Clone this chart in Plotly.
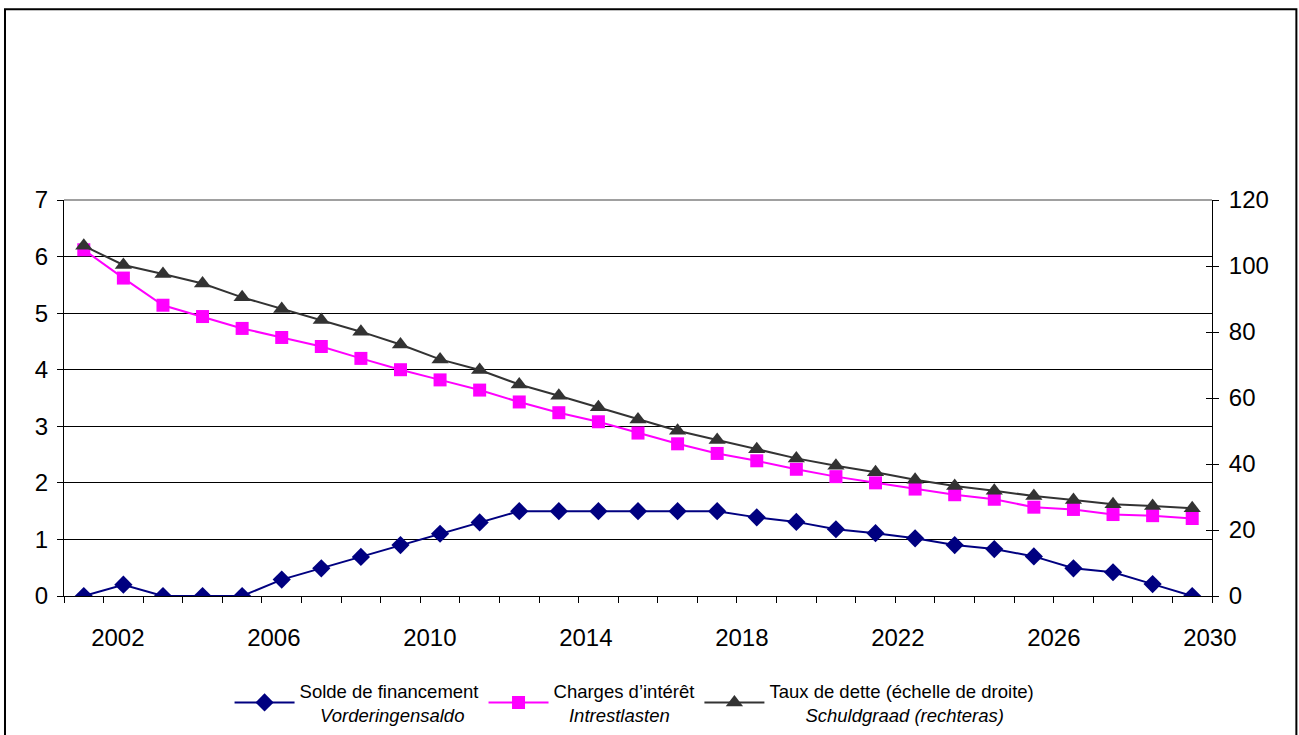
import plotly.graph_objects as go

years = list(range(2001, 2030))
solde = [0, 0.2, 0, 0, 0, 0.29, 0.49, 0.69, 0.9, 1.1, 1.3, 1.5, 1.5, 1.5, 1.5, 1.5, 1.5,
         1.39, 1.31, 1.18, 1.11, 1.02, 0.9, 0.83, 0.7, 0.49, 0.42, 0.21, 0]
charges = [6.12, 5.62, 5.14, 4.94, 4.73, 4.57, 4.41, 4.2, 4.0, 3.82, 3.64, 3.43, 3.24, 3.08,
           2.88, 2.69, 2.52, 2.39, 2.24, 2.11, 2.0, 1.89, 1.79, 1.71, 1.57, 1.53, 1.44, 1.42, 1.37]
taux = [106.1, 100.3, 97.6, 94.7, 90.5, 87.0, 83.6, 80.1, 76.2, 71.7, 68.5, 64.1, 60.7, 57.2,
        53.5, 50.1, 47.3, 44.5, 41.7, 39.5, 37.5, 35.2, 33.3, 31.9, 30.3, 29.1, 27.8, 27.3, 26.6]
tick_years = [2002, 2006, 2010, 2014, 2018, 2022, 2026, 2030]
tick_text = [str(y) for y in tick_years]

names = [
    "Solde de financement<br>&nbsp;&nbsp;&nbsp;&nbsp;<i>Vorderingensaldo</i>",
    "Charges d\u2019int\u00e9r\u00eat<br>&nbsp;&nbsp;&nbsp;<i>Intrestlasten</i>",
    "Taux de dette (\u00e9chelle de droite)<br>&nbsp;&nbsp;&nbsp;&nbsp;&nbsp;&nbsp;&nbsp;<i>Schuldgraad (rechteras)</i>",
]

FONT = "Liberation Sans, Arial, sans-serif"

fig = go.Figure()
fig.add_trace(go.Scatter(x=years, y=solde, name=names[0], mode="lines+markers",
                         line=dict(color="#000080", width=2),
                         marker=dict(symbol="diamond", size=14, color="#000080")))
fig.add_trace(go.Scatter(x=years, y=charges, name=names[1], mode="lines+markers",
                         line=dict(color="#FF00FF", width=2),
                         marker=dict(symbol="square", size=13, color="#FF00FF")))
fig.add_trace(go.Scatter(x=years, y=taux, name=names[2], mode="lines+markers", yaxis="y2",
                         line=dict(color="#333333", width=2),
                         marker=dict(symbol="triangle-up", size=15, color="#333333")))
# helper trace to activate the overlay axes (label axis and inner tick axis)
fig.add_trace(go.Scatter(x=[None], y=[None], xaxis="x2", yaxis="y3", showlegend=False,
                         hoverinfo="skip"))

xr = [2000.5, 2029.5]
fig.update_layout(
    template="none",
    width=1299, height=735,
    margin=dict(l=64, r=87, t=200, b=139, autoexpand=False),
    paper_bgcolor="white", plot_bgcolor="white",
    font=dict(family=FONT, size=24, color="black"),
    showlegend=True,
    legend=dict(orientation="h", x=0.497, xanchor="center", y=-0.27, yanchor="middle",
                font=dict(family=FONT, size=18.5, color="black"), itemwidth=60,
                bgcolor="rgba(0,0,0,0)", borderwidth=0, tracegroupgap=0),
    xaxis=dict(range=xr, tickmode="array", automargin=False,
               tickvals=[y - 0.5 for y in years] + [years[-1] + 0.5],
               showticklabels=False, ticks="outside", ticklen=6, tickcolor="black", tickwidth=1,
               showline=True, linecolor="black", linewidth=1, showgrid=False, zeroline=False),
    xaxis2=dict(range=xr, overlaying="x", anchor="y", side="bottom", tickmode="array",
                automargin=False,
                tickvals=[2001.86 + (y - 2002) * 0.9852 for y in tick_years], ticktext=tick_text,
                ticks="outside", ticklen=20, tickcolor="rgba(0,0,0,0)",
                showline=False, showgrid=False, zeroline=False,
                tickfont=dict(family=FONT, size=24, color="black")),
    yaxis=dict(range=[0, 7], dtick=1, tick0=0, ticks="outside", ticklen=6, tickcolor="black",
               tickwidth=1, automargin=False, ticklabelstandoff=4,
               showline=True, linecolor="black", linewidth=1,
               showgrid=True, gridcolor="black", gridwidth=1, zeroline=False,
               tickfont=dict(family=FONT, size=24, color="black")),
    yaxis2=dict(range=[0, 120], dtick=20, tick0=0, overlaying="y", side="right", anchor="x",
                ticks="outside", ticklen=6, tickcolor="black", tickwidth=1, automargin=False,
                ticklabelstandoff=5,
                showline=True, linecolor="black", linewidth=1, showgrid=False, zeroline=False,
                tickfont=dict(family=FONT, size=24, color="black")),
    yaxis3=dict(range=[0, 120], dtick=20, tick0=0, overlaying="y", side="right", anchor="x",
                ticks="inside", ticklen=6, tickcolor="black", tickwidth=1, showticklabels=False,
                automargin=False, showline=False, showgrid=False, zeroline=False),
    shapes=[
        dict(type="line", xref="paper", yref="paper", x0=0, x1=1, y0=1, y1=1,
             line=dict(color="#808080", width=1.5), layer="above"),
        dict(type="rect", xref="paper", yref="paper", x0=-0.0514, x1=1.0735, y0=-0.4, y1=1.482,
             line=dict(color="black", width=2), fillcolor="rgba(0,0,0,0)", layer="below"),
    ],
)

fig.write_html("out.html")
